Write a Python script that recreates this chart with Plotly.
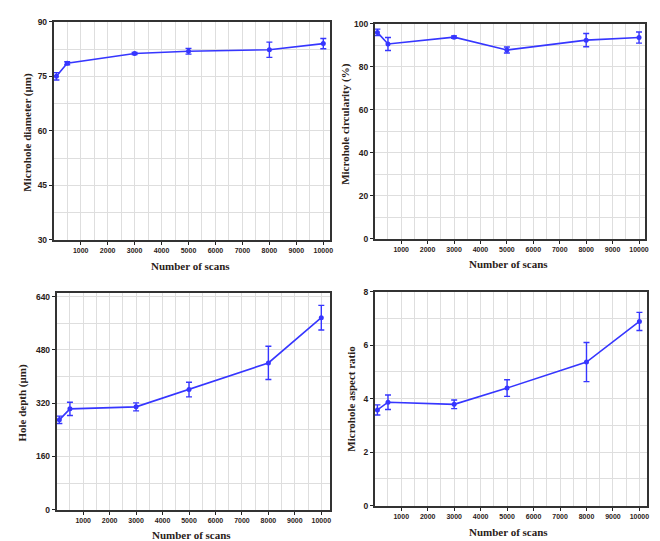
import plotly.graph_objects as go

scans = [100, 500, 3000, 5000, 8000, 10000]

diameter = [75.0, 78.6, 81.3, 81.9, 82.3, 84.0]
diameter_err = [1.0, 0.4, 0.3, 0.8, 2.1, 1.4]

circularity = [96.0, 90.6, 93.8, 87.8, 92.4, 93.6]
circularity_err = [1.5, 3.0, 0.5, 1.4, 3.1, 2.6]

depth = [270, 303, 309, 361, 441, 577]
depth_err = [11, 20, 12, 22, 50, 37]

aspect = [3.58, 3.87, 3.79, 4.40, 5.37, 6.89]
aspect_err = [0.19, 0.27, 0.16, 0.31, 0.73, 0.34]

x_ticks = [1000, 2000, 3000, 4000, 5000, 6000, 7000, 8000, 9000, 10000]
x_ticktext = ["1000", "2000", "3000", "4000", "5000", "6000", "7000", "8000", "9000", "10000"]

panels = [
    dict(y=diameter, e=diameter_err, yr=[30, 90], dt=15, title="Microhole diameter (μm)",
         dom_x=[46, 324], dom_y=[9, 231], xr=[0, 10250],
         xt=(184, 258), yt=(20, 121)),
    dict(y=circularity, e=circularity_err, yr=[0, 100], dt=20, title="Microhole circularity (%)",
         dom_x=[369, 641], dom_y=[11, 230], xr=[0, 10230],
         xt=(504, 256), yt=(340, 113)),
    dict(y=depth, e=depth_err, yr=[0, 652], dt=160, title="Hole depth (μm)",
         dom_x=[49, 324], dom_y=[285, 506], xr=[0, 10330],
         xt=(185, 532), yt=(15, 397)),
    dict(y=aspect, e=aspect_err, yr=[0, 8], dt=2, title="Microhole aspect ratio",
         dom_x=[369, 643], dom_y=[284, 502], xr=[0, 10290],
         xt=(504, 529), yt=(345, 393)),
]

W, H = 660, 541
BLUE = "#3636ff"
TXT = "#2a2118"
GRID = "#dedede"

fig = go.Figure()
layout = dict(
    width=W, height=H, margin=dict(l=0, r=0, t=0, b=0),
    paper_bgcolor="white", plot_bgcolor="white", showlegend=False,
)
annotations = []

for i, p in enumerate(panels, start=1):
    xa = "x" if i == 1 else f"x{i}"
    ya = "y" if i == 1 else f"y{i}"
    fig.add_trace(go.Scatter(
        x=scans, y=p["y"], xaxis=xa, yaxis=ya, mode="lines+markers",
        line=dict(color=BLUE, width=1.6),
        marker=dict(color=BLUE, size=5, symbol="circle"),
        error_y=dict(type="data", array=p["e"], visible=True, color=BLUE, thickness=1.4, width=3),
    ))
    xkey = "xaxis" if i == 1 else f"xaxis{i}"
    ykey = "yaxis" if i == 1 else f"yaxis{i}"
    x0, x1 = p["dom_x"]
    y0, y1 = p["dom_y"]
    layout[xkey] = dict(
        domain=[x0 / W, x1 / W], anchor=ya, range=p["xr"],
        tickmode="array", tickvals=x_ticks, ticktext=x_ticktext,
        ticks="outside", ticklen=3, tickwidth=1.2, tickcolor="#222",
        showline=True, linecolor="#333", linewidth=1.8, mirror=True,
        showgrid=True, gridcolor=GRID, gridwidth=1,
        minor=dict(dtick=500, tick0=0, showgrid=True, gridcolor=GRID, gridwidth=1, ticks=""),
        tickfont=dict(family="Liberation Sans", size=7, color=TXT, weight="bold"),
        tickangle=0, zeroline=False,
    )
    yticks = []
    v = p["yr"][0]
    while v <= p["yr"][1] + 1e-9:
        yticks.append(v)
        v += p["dt"]
    layout[ykey] = dict(
        domain=[1 - y1 / H, 1 - y0 / H], anchor=xa, range=p["yr"],
        tickmode="array", tickvals=yticks, ticktext=[str(t) for t in yticks],
        ticks="outside", ticklen=3, tickwidth=1.2, tickcolor="#222",
        showline=True, linecolor="#333", linewidth=1.8, mirror=True,
        showgrid=True, gridcolor=GRID, gridwidth=1,
        minor=dict(dtick=p["dt"] / 2, tick0=p["yr"][0], showgrid=True, gridcolor=GRID, gridwidth=1, ticks=""),
        tickfont=dict(family="Liberation Sans", size=8.5, color=TXT, weight="bold"),
        zeroline=False,
    )
    annotations.append(dict(
        text="<b>Number of scans</b>", xref="paper", yref="paper",
        x=p["xt"][0] / W, y=1 - p["xt"][1] / H, xanchor="center", yanchor="middle",
        showarrow=False, font=dict(family="Liberation Serif", size=11, color=TXT),
    ))
    annotations.append(dict(
        text=f"<b>{p['title']}</b>", xref="paper", yref="paper",
        x=p["yt"][0] / W, y=1 - p["yt"][1] / H, xanchor="center", yanchor="middle",
        textangle=-90, showarrow=False, font=dict(family="Liberation Serif", size=11, color=TXT),
    ))

layout["annotations"] = annotations
fig.update_layout(**layout)
fig.write_html("out.html")
